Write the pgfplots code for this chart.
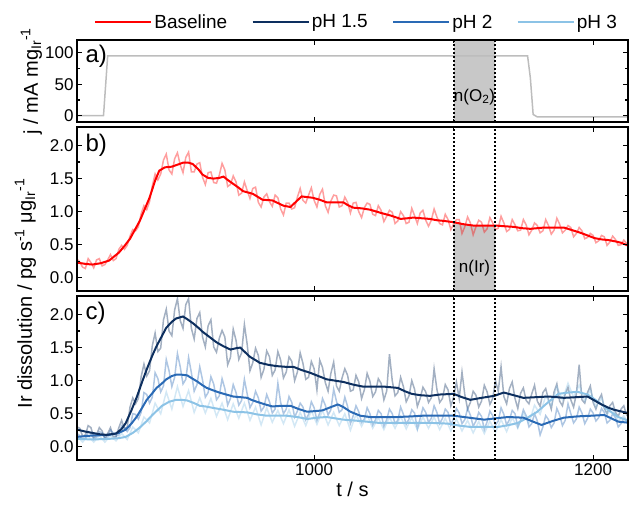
\documentclass[border=0pt]{standalone}
\usepackage{fontspec}
\setmainfont{Liberation Sans}
\usepackage{pgfplots}
\pgfplotsset{compat=1.18}
\usetikzlibrary{calc}

\definecolor{cbase}{HTML}{FF0000}
\definecolor{cph15}{HTML}{0D2F5F}
\definecolor{cph2}{HTML}{2A6AB5}
\definecolor{cph3}{HTML}{8CC3E6}
\definecolor{cband}{HTML}{C8C8C8}
\definecolor{cjcurve}{HTML}{BDBDBD}

\tikzset{plabel/.style={anchor=west, font=\fontsize{24}{28}\selectfont}}

\pgfplotsset{
  panel/.style={
    scale only axis, width=551pt,
    xmin=830, xmax=1225,
    xtick={1000,1200}, minor x tick num=1,
    tick align=inside, major tick length=5pt, minor tick length=3pt,
    axis line style={line width=1.8pt},
    tick style={black, line width=1.2pt},
    tick label style={font=\fontsize{17}{20}\selectfont},
    /pgf/number format/assume math mode=true,
    /pgf/number format/1000 sep={},
    axis on top,
  },
  irpanel/.style={
    height=164pt, ymin=-0.2, ymax=2.28,
    ytick={0,0.5,1,1.5,2}, minor y tick num=1,
    yticklabel style={/pgf/number format/.cd, fixed, fixed zerofill, precision=1},
  },
  noisy/.style={line width=1.5pt, opacity=0.38, forget plot},
  smoothln/.style={line width=2pt, forget plot},
  bandline/.style={black, line width=2pt, dash pattern=on 2pt off 2pt, forget plot},
}

\begin{document}
\begin{tikzpicture}

% ---------- panel a: current density ----------
\begin{axis}[panel, name=a, at={(0,338pt)}, anchor=south west,
  height=82pt, ymin=-10, ymax=120, ytick={0,50,100}, minor y tick num=1,
  xticklabels={},
  legend style={at={(rel axis cs:0.5,1)}, anchor=south, xshift=4pt, yshift=6pt,
    draw=none, fill=none, legend columns=4,
    font=\fontsize{19}{22}\selectfont,
    /tikz/every even column/.append style={column sep=22pt}},
  legend image code/.code={\draw[#1] (0pt,0pt) -- (56pt,0pt);},
]
\addplot[fill=cband, draw=none, forget plot] coordinates {
  (1100,-10) (1100,120) (1130,120) (1130,-10)};
\addplot[cjcurve, line width=1.5pt, forget plot] coordinates {
  (830,0) (849,0) (852,95) (1153,95) (1155,60) (1157,2) (1160,-2) (1226,-2)};
\addplot[bandline] coordinates {(1100,-10) (1100,120)};
\addplot[bandline] coordinates {(1130,-10) (1130,120)};
\node[font=\fontsize{17}{20}\selectfont] at (axis cs:1115,30) {n(O\textsubscript{2})};
\node[plabel] at ($(rel axis cs:0,1)+(5pt,-16pt)$) {a)};
\addlegendimage{cbase, line width=2.5pt}
\addlegendentry{Baseline}
\addlegendimage{cph15, line width=2.5pt}
\addlegendentry{pH 1.5}
\addlegendimage{cph2, line width=2.5pt}
\addlegendentry{pH 2}
\addlegendimage{cph3, line width=2.5pt}
\addlegendentry{pH 3}
\end{axis}

% ---------- panel b: baseline dissolution ----------
\begin{axis}[panel, irpanel, name=b, at={(0,169pt)}, anchor=south west,
  xticklabels={}]
\addplot[fill=cband, draw=none, forget plot] coordinates {
  (1100,-0.2) (1100,0.84) (1107,0.81) (1114,0.79) (1122,0.79) (1130,0.79) (1130,-0.2)};
\addplot[noisy, cbase] coordinates {
  (830,0.28)(832,0.24)(834,0.16)(836,0.14)(838,0.29)(840,0.23)(842,0.15)(844,0.27)
  (846,0.29)(848,0.18)(850,0.20)(852,0.27)(854,0.35)(856,0.26)(858,0.29)(860,0.43)
  (862,0.49)(864,0.43)(866,0.49)(868,0.63)(870,0.73)(872,0.71)(874,0.77)(876,0.97)
  (878,1.09)(880,1.03)(882,1.15)(884,1.39)(886,1.57)(888,1.48)(890,1.57)(892,1.78)
  (894,1.87)(896,1.63)(898,1.57)(900,1.80)(902,1.89)(904,1.71)(906,1.59)(908,1.82)
  (910,1.90)(912,1.60)(914,1.60)(916,1.72)(918,1.74)(920,1.52)(922,1.41)(924,1.59)
  (926,1.60)(928,1.44)(930,1.43)(932,1.55)(934,1.73)(936,1.63)(938,1.38)(940,1.41)
  (942,1.54)(944,1.45)(946,1.25)(948,1.28)(950,1.45)(952,1.32)(954,1.20)(956,1.35)
  (958,1.37)(960,1.14)(962,1.07)(964,1.22)(966,1.27)(968,1.15)(970,1.08)(972,1.25)
  (974,1.21)(976,1.04)(978,0.95)(980,1.13)(982,1.13)(984,1.04)(986,1.06)(988,1.22)
  (990,1.35)(992,1.17)(994,1.13)(996,1.25)(998,1.36)(1000,1.17)(1002,1.07)(1004,1.26)
  (1006,1.34)(1008,1.09)(1010,0.99)(1012,1.16)(1014,1.25)(1016,1.24)(1018,1.07)(1020,1.09)
  (1022,1.22)(1024,1.14)(1026,0.98)(1028,1.13)(1030,1.14)(1032,1.00)(1034,0.91)(1036,1.06)
  (1038,1.13)(1040,1.11)(1042,0.96)(1044,0.94)(1046,1.09)(1048,1.02)(1050,0.85)(1052,0.93)
  (1054,1.02)(1056,0.99)(1058,0.82)(1060,0.86)(1062,1.00)(1064,0.94)(1066,0.82)(1068,0.84)
  (1070,1.05)(1072,0.94)(1074,0.82)(1076,0.98)(1078,1.02)(1080,0.87)(1082,0.78)(1084,0.87)
  (1086,1.04)(1088,0.92)(1090,0.82)(1092,0.80)(1094,0.96)(1096,0.88)(1098,0.73)(1100,0.81)
  (1102,0.88)(1104,0.88)(1106,0.67)(1108,0.77)(1110,0.92)(1112,0.83)(1114,0.65)(1116,0.77)
  (1118,0.87)(1120,0.84)(1122,0.69)(1124,0.74)(1126,0.91)(1128,0.83)(1130,0.73)(1132,0.75)
  (1134,0.93)(1136,0.83)(1138,0.70)(1140,0.73)(1142,0.88)(1144,0.80)(1146,0.71)(1148,0.72)
  (1150,0.88)(1152,0.80)(1154,0.65)(1156,0.72)(1158,0.83)(1160,0.79)(1162,0.68)(1164,0.71)
  (1166,0.88)(1168,0.79)(1170,0.66)(1172,0.72)(1174,0.90)(1176,0.81)(1178,0.68)(1180,0.72)
  (1182,0.79)(1184,0.76)(1186,0.62)(1188,0.67)(1190,0.76)(1192,0.71)(1194,0.59)(1196,0.61)
  (1198,0.67)(1200,0.64)(1202,0.53)(1204,0.56)(1206,0.64)(1208,0.62)(1210,0.49)(1212,0.54)
  (1214,0.63)(1216,0.58)(1218,0.49)(1220,0.50)(1222,0.57)(1224,0.52)(1226,0.42)};
\addplot[smoothln, cbase] coordinates {
  (830,0.23)(836,0.21)(841,0.20)(847,0.22)(853,0.26)(860,0.38)(864,0.48)(868,0.59)
  (875,0.86)(882,1.21)(886,1.47)(889,1.62)(893,1.67)(898,1.68)(902,1.71)(906,1.74)
  (910,1.74)(913,1.72)(917,1.64)(920,1.56)(924,1.51)(928,1.50)(932,1.51)(935,1.53)
  (938,1.48)(942,1.42)(946,1.36)(949,1.31)(956,1.27)(963,1.18)(970,1.17)(974,1.13)
  (978,1.09)(983,1.07)(987,1.15)(991,1.23)(995,1.22)(999,1.21)(1004,1.18)(1009,1.14)
  (1015,1.14)(1021,1.14)(1024,1.10)(1028,1.06)(1034,1.05)(1040,1.03)(1048,0.98)(1055,0.94)
  (1062,0.89)(1067,0.90)(1071,0.91)(1077,0.90)(1083,0.89)(1088,0.87)(1093,0.86)(1100,0.84)
  (1107,0.81)(1114,0.79)(1122,0.79)(1130,0.79)(1136,0.78)(1143,0.77)(1149,0.75)(1155,0.74)
  (1160,0.75)(1165,0.76)(1172,0.76)(1179,0.76)(1185,0.72)(1191,0.68)(1196,0.64)(1201,0.60)
  (1206,0.58)(1211,0.57)(1216,0.55)(1220,0.53)(1227,0.47)};
\addplot[bandline] coordinates {(1100,-0.2) (1100,2.28)};
\addplot[bandline] coordinates {(1130,-0.2) (1130,2.28)};
\node[font=\fontsize{17}{20}\selectfont] at (axis cs:1115,0.14) {n(Ir)};
\node[plabel] at ($(rel axis cs:0,1)+(5pt,-18pt)$) {b)};
\end{axis}

% ---------- panel c: pH series ----------
\begin{axis}[panel, irpanel, name=c, at={(0,0)}, anchor=south west,
  xlabel={t / s}, xlabel style={font=\fontsize{20}{24}\selectfont}]
\addplot[noisy, cph15] coordinates {
  (830,0.30)(832,0.28)(834,0.16)(836,0.18)(838,0.32)(840,0.29)(842,0.14)(844,0.18)
  (846,0.29)(848,0.24)(850,0.12)(852,0.20)(854,0.29)(856,0.15)(858,0.15)(860,0.29)
  (862,0.40)(864,0.27)(866,0.30)(868,0.60)(870,0.74)(872,0.65)(874,0.73)(876,1.06)
  (878,1.25)(880,1.07)(882,1.15)(884,1.53)(886,1.72)(888,1.44)(890,1.49)(892,1.92)
  (894,2.08)(896,1.75)(898,1.68)(900,2.07)(902,2.24)(904,1.91)(906,1.79)(908,2.15)
  (910,2.24)(912,1.79)(914,1.63)(916,1.94)(918,2.03)(920,1.66)(922,1.51)(924,1.83)
  (926,1.92)(928,1.51)(930,1.43)(932,1.64)(934,1.76)(936,1.66)(938,1.24)(940,1.35)
  (942,1.78)(944,1.61)(946,1.32)(948,1.42)(950,1.85)(952,1.55)(954,1.15)(956,1.27)
  (958,1.49)(960,1.38)(962,1.05)(964,1.17)(966,1.45)(968,1.36)(970,1.08)(972,1.16)
  (974,1.44)(976,1.31)(978,1.04)(980,1.13)(982,1.36)(984,1.29)(986,1.00)(988,1.13)
  (990,1.42)(992,1.26)(994,1.02)(996,1.05)(998,1.29)(1000,1.18)(1002,0.86)(1004,1.31)
  (1006,1.20)(1008,0.97)(1010,0.84)(1012,1.11)(1014,1.28)(1016,0.92)(1018,0.84)(1020,1.04)
  (1022,1.18)(1024,1.08)(1026,0.84)(1028,0.86)(1030,1.08)(1032,0.98)(1034,0.73)(1036,0.86)
  (1038,1.11)(1040,0.99)(1042,0.76)(1044,0.83)(1046,1.03)(1048,0.96)(1050,0.71)(1052,0.84)
  (1054,1.40)(1056,1.00)(1058,0.77)(1060,0.82)(1062,1.05)(1064,0.91)(1066,0.68)(1068,0.77)
  (1070,1.00)(1072,0.87)(1074,0.61)(1076,0.73)(1078,0.90)(1080,0.83)(1082,0.67)(1084,0.74)
  (1086,1.18)(1088,0.87)(1090,0.67)(1092,0.73)(1094,0.94)(1096,0.86)(1098,0.62)(1100,0.75)
  (1102,0.98)(1104,0.73)(1106,1.13)(1108,0.79)(1110,0.57)(1112,0.67)(1114,0.84)(1116,0.78)
  (1118,0.60)(1120,0.69)(1122,0.93)(1124,0.83)(1126,0.64)(1128,0.73)(1130,1.00)(1132,0.84)
  (1134,1.21)(1136,0.76)(1138,0.65)(1140,0.88)(1142,0.98)(1144,0.73)(1146,0.58)(1148,0.81)
  (1150,0.89)(1152,0.70)(1154,0.65)(1156,0.80)(1158,0.93)(1160,0.69)(1162,0.61)(1164,0.82)
  (1166,0.88)(1168,0.71)(1170,0.57)(1172,0.83)(1174,0.95)(1176,0.69)(1178,0.62)(1180,0.80)
  (1182,0.90)(1184,0.71)(1186,0.60)(1188,0.80)(1190,1.24)(1192,0.71)(1194,0.66)(1196,0.82)
  (1198,0.92)(1200,0.67)(1202,0.57)(1204,0.71)(1206,0.79)(1208,0.58)(1210,0.50)(1212,0.62)
  (1214,0.67)(1216,0.52)(1218,0.46)(1220,0.57)(1222,0.62)(1224,0.48)(1226,0.44)};
\addplot[noisy, cph2] coordinates {
  (830,0.20)(832,0.17)(834,0.11)(836,0.13)(838,0.23)(840,0.20)(842,0.11)(844,0.15)
  (846,0.23)(848,0.21)(850,0.13)(852,0.15)(854,0.25)(856,0.21)(858,0.16)(860,0.18)
  (862,0.32)(864,0.29)(866,0.23)(868,0.29)(870,0.50)(872,0.49)(874,0.42)(876,0.52)
  (878,0.82)(880,0.79)(882,0.66)(884,0.75)(886,1.12)(888,1.03)(890,0.83)(892,0.92)
  (894,1.32)(896,1.15)(898,0.91)(900,1.05)(902,1.41)(904,1.21)(906,0.95)(908,1.02)
  (910,1.35)(912,1.12)(914,0.84)(916,0.94)(918,1.21)(920,1.01)(922,0.75)(924,0.82)
  (926,1.06)(928,0.95)(930,0.71)(932,0.77)(934,1.03)(936,0.88)(938,0.63)(940,0.73)
  (942,0.94)(944,0.82)(946,0.63)(948,0.70)(950,1.02)(952,0.80)(954,0.59)(956,0.67)
  (958,0.84)(960,0.74)(962,0.54)(964,0.60)(966,0.79)(968,0.68)(970,0.51)(972,0.57)
  (974,0.96)(976,0.67)(978,0.50)(980,0.57)(982,0.76)(984,0.67)(986,0.45)(988,0.54)
  (990,0.66)(992,0.60)(994,0.41)(996,0.49)(998,0.68)(1000,0.59)(1002,0.40)(1004,0.51)
  (1006,0.73)(1008,0.63)(1010,0.48)(1012,0.56)(1014,0.87)(1016,0.69)(1018,0.52)(1020,0.56)
  (1022,0.75)(1024,0.61)(1026,0.35)(1028,0.47)(1030,0.62)(1032,0.53)(1034,0.37)(1036,0.42)
  (1038,0.59)(1040,0.50)(1042,0.33)(1044,0.41)(1046,0.55)(1048,0.50)(1050,0.31)(1052,0.41)
  (1054,0.57)(1056,0.50)(1058,0.35)(1060,0.40)(1062,0.60)(1064,0.49)(1066,0.34)(1068,0.42)
  (1070,0.56)(1072,0.51)(1074,0.27)(1076,0.43)(1078,0.59)(1080,0.52)(1082,0.37)(1084,0.43)
  (1086,0.62)(1088,0.52)(1090,0.35)(1092,0.43)(1094,0.57)(1096,0.52)(1098,0.33)(1100,0.43)
  (1102,0.58)(1104,0.51)(1106,0.35)(1108,0.41)(1110,0.58)(1112,0.48)(1114,0.31)(1116,0.39)
  (1118,0.52)(1120,0.46)(1122,0.26)(1124,0.38)(1126,0.54)(1128,0.47)(1130,0.33)(1132,0.39)
  (1134,0.59)(1136,0.49)(1138,0.33)(1140,0.41)(1142,0.55)(1144,0.50)(1146,0.30)(1148,0.40)
  (1150,0.56)(1152,0.47)(1154,0.30)(1156,0.35)(1158,0.50)(1160,0.39)(1162,0.18)(1164,0.30)
  (1166,0.47)(1168,0.41)(1170,0.29)(1172,0.36)(1174,0.58)(1176,0.48)(1178,0.32)(1180,0.40)
  (1182,0.65)(1184,0.50)(1186,0.36)(1188,0.42)(1190,0.60)(1192,0.51)(1194,0.35)(1196,0.43)
  (1198,0.57)(1200,0.51)(1202,0.39)(1204,0.44)(1206,0.58)(1208,0.52)(1210,0.36)(1212,0.40)
  (1214,0.50)(1216,0.44)(1218,0.30)(1220,0.35)(1222,0.43)(1224,0.40)(1226,0.30)};
\addplot[noisy, cph3] coordinates {
  (830,0.16)(834,0.07)(838,0.16)(842,0.07)(846,0.17)(850,0.07)(854,0.17)(858,0.09)
  (862,0.20)(866,0.11)(870,0.30)(874,0.21)(878,0.45)(882,0.36)(886,0.66)(890,0.50)
  (894,0.83)(898,0.57)(902,0.91)(906,0.61)(910,0.85)(914,0.52)(918,0.74)(922,0.51)
  (926,0.73)(930,0.46)(934,0.66)(938,0.41)(942,0.65)(946,0.43)(950,0.66)(954,0.40)
  (958,0.60)(962,0.33)(966,0.59)(970,0.37)(974,0.55)(978,0.35)(982,0.56)(986,0.31)
  (990,0.52)(994,0.32)(998,0.55)(1002,0.34)(1006,0.55)(1010,0.33)(1014,0.52)(1018,0.32)
  (1022,0.50)(1026,0.25)(1030,0.49)(1034,0.31)(1038,0.48)(1042,0.28)(1046,0.44)(1050,0.26)
  (1054,0.45)(1058,0.28)(1062,0.46)(1066,0.27)(1070,0.44)(1074,0.26)(1078,0.45)(1082,0.28)
  (1086,0.45)(1090,0.26)(1094,0.43)(1098,0.24)(1102,0.42)(1106,0.24)(1110,0.40)(1114,0.21)
  (1118,0.38)(1122,0.20)(1126,0.39)(1130,0.22)(1134,0.41)(1138,0.23)(1142,0.44)(1146,0.28)
  (1150,0.51)(1154,0.36)(1158,0.63)(1162,0.49)(1166,0.77)(1170,0.62)(1174,0.91)(1178,0.71)
  (1182,0.96)(1186,0.75)(1190,0.93)(1194,0.69)(1198,0.86)(1202,0.60)(1206,0.74)(1210,0.49)
  (1214,0.59)(1218,0.38)(1222,0.47)(1226,0.33)};
\addplot[smoothln, cph3] coordinates {
  (830,0.12)(841,0.11)(853,0.12)(860,0.13)(865,0.15)(870,0.21)(875,0.29)(880,0.39)
  (884,0.48)(888,0.56)(891,0.62)(896,0.68)(901,0.71)(905,0.71)(909,0.70)(914,0.66)
  (918,0.62)(922,0.61)(927,0.59)(935,0.56)(942,0.53)(952,0.52)(959,0.49)(966,0.47)
  (973,0.47)(980,0.47)(988,0.45)(995,0.42)(1002,0.44)(1009,0.45)(1015,0.43)(1021,0.41)
  (1033,0.39)(1047,0.36)(1060,0.36)(1071,0.36)(1085,0.36)(1096,0.35)(1104,0.32)(1112,0.30)
  (1122,0.30)(1132,0.30)(1140,0.33)(1146,0.36)(1153,0.44)(1160,0.53)(1167,0.66)(1175,0.80)
  (1182,0.82)(1189,0.83)(1196,0.79)(1201,0.72)(1206,0.64)(1212,0.54)(1218,0.45)(1227,0.38)};
\addplot[smoothln, cph2] coordinates {
  (830,0.15)(841,0.17)(853,0.18)(860,0.21)(865,0.26)(869,0.35)(873,0.46)(877,0.60)
  (880,0.71)(884,0.81)(887,0.89)(891,0.96)(894,1.02)(898,1.07)(901,1.09)(905,1.09)
  (909,1.08)(912,1.04)(916,0.99)(920,0.93)(923,0.89)(928,0.85)(932,0.82)(937,0.79)
  (942,0.76)(947,0.75)(952,0.74)(955,0.71)(959,0.68)(965,0.64)(970,0.61)(977,0.62)
  (983,0.62)(989,0.57)(995,0.53)(1001,0.54)(1006,0.55)(1012,0.60)(1017,0.64)(1021,0.60)
  (1026,0.53)(1033,0.47)(1040,0.45)(1050,0.45)(1060,0.45)(1070,0.46)(1078,0.47)(1090,0.47)
  (1100,0.47)(1111,0.44)(1122,0.41)(1130,0.43)(1139,0.45)(1150,0.44)(1157,0.38)(1163,0.33)
  (1171,0.39)(1179,0.44)(1189,0.46)(1199,0.47)(1208,0.48)(1213,0.43)(1218,0.38)(1227,0.36)};
\addplot[smoothln, cph15] coordinates {
  (830,0.26)(836,0.23)(841,0.21)(846,0.19)(851,0.18)(858,0.20)(862,0.27)(865,0.36)
  (869,0.55)(873,0.76)(877,1.00)(880,1.17)(884,1.38)(887,1.52)(891,1.68)(894,1.80)
  (898,1.89)(901,1.94)(906,1.97)(909,1.93)(913,1.87)(917,1.80)(920,1.74)(925,1.66)
  (930,1.58)(935,1.52)(940,1.47)(944,1.49)(947,1.50)(951,1.42)(954,1.36)(958,1.31)
  (961,1.27)(967,1.24)(973,1.22)(979,1.21)(985,1.21)(991,1.16)(997,1.12)(1003,1.07)
  (1009,1.02)(1015,1.00)(1021,0.98)(1028,0.94)(1035,0.91)(1042,0.91)(1050,0.91)(1055,0.90)
  (1060,0.89)(1065,0.84)(1070,0.80)(1076,0.78)(1083,0.77)(1090,0.79)(1100,0.80)(1106,0.75)
  (1112,0.71)(1120,0.74)(1129,0.77)(1136,0.82)(1143,0.78)(1150,0.74)(1159,0.75)(1168,0.76)
  (1174,0.75)(1179,0.74)(1188,0.75)(1196,0.76)(1201,0.70)(1206,0.64)(1211,0.59)(1215,0.56)
  (1221,0.53)(1227,0.50)};
\addplot[bandline] coordinates {(1100,-0.2) (1100,2.28)};
\addplot[bandline] coordinates {(1130,-0.2) (1130,2.28)};
\node[plabel] at ($(rel axis cs:0,1)+(5pt,-17pt)$) {c)};
\end{axis}

% ---------- y labels ----------
\node[rotate=90, anchor=base, font=\fontsize{20}{24}\selectfont]
  at ($(a.west)+(-39pt,0)$) {j / mA mg\textsubscript{Ir}\textsuperscript{-1}};
\node[rotate=90, anchor=base, font=\fontsize{20}{24}\selectfont]
  at ($(b.north west)!0.5!(c.south west)+(-45pt,0)$)
  {Ir dissolution / pg s\textsuperscript{-1} μg\textsubscript{Ir}\textsuperscript{-1}};

% page frame with the reference's margins
\pgfresetboundingbox
\useasboundingbox (-77pt,-52pt) rectangle (553pt,460pt);
\end{tikzpicture}
\end{document}
